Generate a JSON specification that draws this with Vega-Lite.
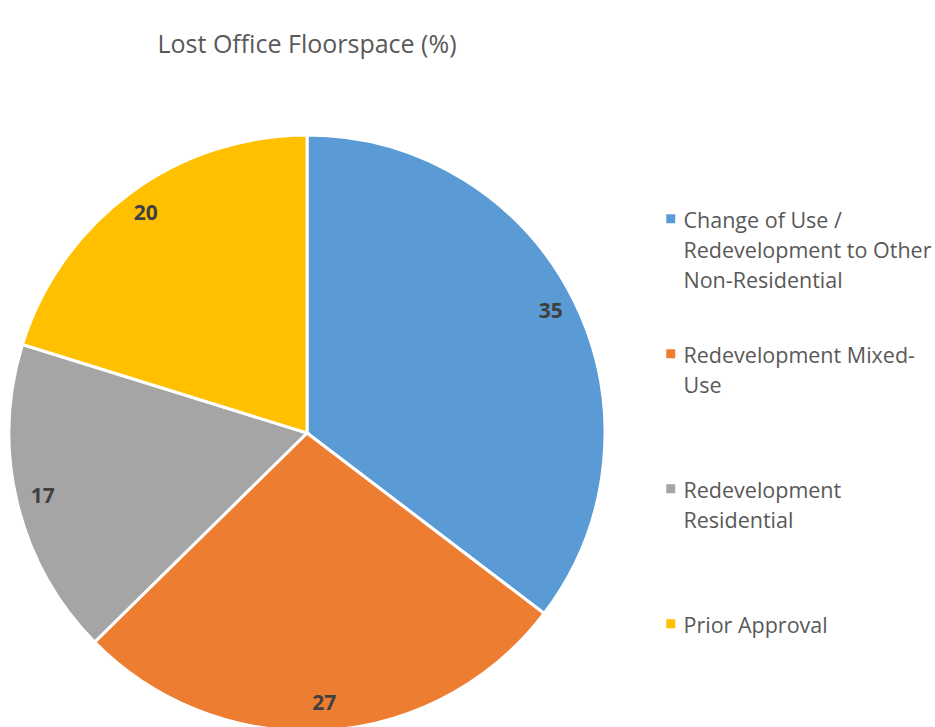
{
  "$schema": "https://vega.github.io/schema/vega-lite/v6.json",
  "width": 614,
  "height": 726,
  "autosize": "none",
  "padding": {"left": 0, "top": 70, "right": 321, "bottom": 0},
  "background": "white",
  "title": {"text": "Lost Office Floorspace (%)", "font": "Open Sans", "fontSize": 25, "fontWeight": "normal", "color": "#595959", "anchor": "middle", "offset": 12},
  "data": {"values": [
    {"category": "Change of Use / Redevelopment to Other Non-Residential", "value": 35},
    {"category": "Redevelopment Mixed-Use", "value": 27},
    {"category": "Redevelopment Residential", "value": 17},
    {"category": "Prior Approval", "value": 20}
  ]},
  "transform": [{"window": [{"op": "row_number", "as": "idx"}]}],
  "encoding": {
    "theta": {"field": "value", "type": "quantitative", "stack": true},
    "order": {"field": "idx", "type": "quantitative"}
  },
  "layer": [
    {
      "mark": {"type": "arc", "outerRadius": 298, "stroke": "white", "strokeWidth": 3},
      "encoding": {
        "color": {
          "field": "category", "type": "nominal", "sort": null,
          "scale": {
            "domain": ["Change of Use / Redevelopment to Other Non-Residential", "Redevelopment Mixed-Use", "Redevelopment Residential", "Prior Approval"],
            "range": ["#5B9BD5", "#ED7D31", "#A5A5A5", "#FFC000"]
          },
          "legend": {
            "orient": "none", "legendX": 660, "legendY": 138, "title": null, "padding": 0,
            "symbolType": "square", "symbolSize": 81, "symbolStrokeWidth": 0,
            "labelFont": "Open Sans", "labelFontSize": 21.5, "labelColor": "#595959",
            "labelLimit": 0, "labelBaseline": "top", "labelOffset": 2, "rowPadding": 50,
            "labelExpr": "datum.label == 'Change of Use / Redevelopment to Other Non-Residential' ? ['Change of Use /', 'Redevelopment to Other', 'Non-Residential'] : datum.label == 'Redevelopment Mixed-Use' ? ['Redevelopment Mixed-', 'Use', ''] : datum.label == 'Redevelopment Residential' ? ['Redevelopment', 'Residential', ''] : ['Prior Approval', '', '']"
          }
        }
      }
    },
    {
      "mark": {"type": "text", "radius": 272, "font": "Open Sans", "fontWeight": "bold", "fontSize": 21, "fill": "#404040"},
      "encoding": {"text": {"field": "value", "type": "quantitative"}}
    }
  ],
  "config": {"view": {"stroke": null}, "style": {"guide-label": {"lineHeight": 30, "dy": -8}}}
}
